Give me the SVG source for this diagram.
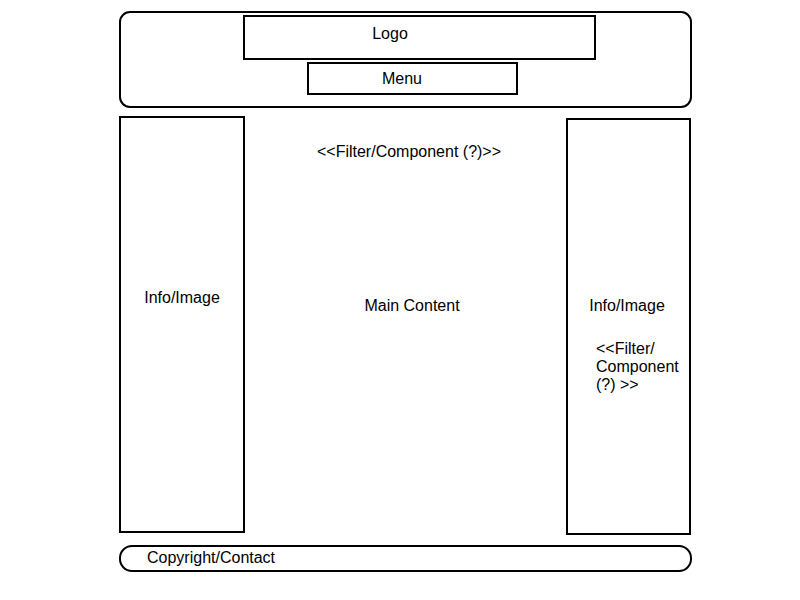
<svg xmlns="http://www.w3.org/2000/svg" width="800" height="600" viewBox="0 0 800 600">
  <style>
    .box { fill: #ffffff; stroke: #000000; stroke-width: 2; }
    .lbl { font-family: "Liberation Sans", Arial, sans-serif; font-size: 16px; fill: #000000; }
    .mid { text-anchor: middle; }
  </style>
  <rect width="800" height="600" fill="#ffffff"/>

  <!-- Header with logo and menu -->
  <g id="header">
    <rect class="box" x="120" y="12" width="571" height="95" rx="10" ry="10"/>
  </g>
  <g id="logo">
    <rect class="box" x="244" y="16" width="351" height="43"/>
    <text class="lbl mid" x="390" y="39">Logo</text>
  </g>
  <g id="menu">
    <rect class="box" x="308" y="63" width="209" height="31"/>
    <text class="lbl mid" x="402" y="84">Menu</text>
  </g>

  <!-- Left sidebar -->
  <g id="left-info">
    <rect class="box" x="120" y="117" width="124" height="415"/>
    <text class="lbl mid" x="182" y="303">Info/Image</text>
  </g>

  <!-- Centre content area -->
  <g id="main">
    <text class="lbl mid" x="409" y="157">&lt;&lt;Filter/Component (?)&gt;&gt;</text>
    <text class="lbl mid" x="412" y="311">Main Content</text>
  </g>

  <!-- Right sidebar -->
  <g id="right-info">
    <rect class="box" x="567" y="119" width="123" height="415"/>
    <text class="lbl mid" x="627" y="311">Info/Image</text>
    <text class="lbl" x="596" y="354">&lt;&lt;Filter/</text>
    <text class="lbl" x="596" y="372">Component</text>
    <text class="lbl" x="596" y="390">(?) &gt;&gt;</text>
  </g>

  <!-- Footer -->
  <g id="footer">
    <rect class="box" x="120" y="546" width="571" height="25" rx="12" ry="12"/>
    <text class="lbl" x="147" y="563">Copyright/Contact</text>
  </g>

  <g id="connectors"/>
</svg>
